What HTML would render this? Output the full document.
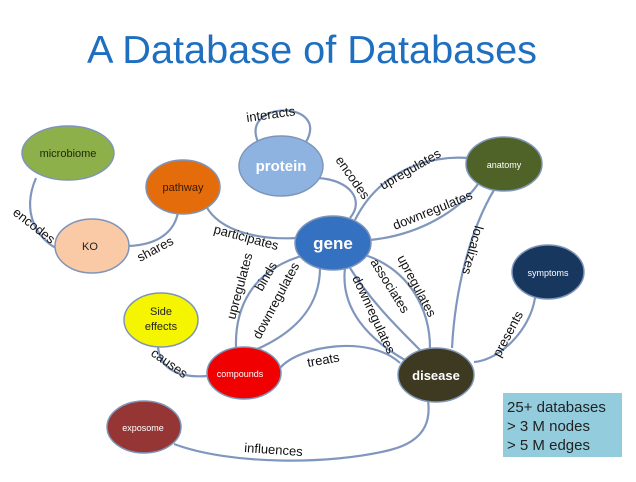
<!DOCTYPE html>
<html><head><meta charset="utf-8"><style>
html,body{margin:0;padding:0;background:#fff;}
svg{display:block;font-family:"Liberation Sans",sans-serif;}
.e{fill:none;stroke:#8097bd;stroke-width:2.2;}
.l{font-size:13px;fill:#111;}
</style></head><body>
<svg width="636" height="482" viewBox="0 0 636 482">
<text x="312" y="63" text-anchor="middle" font-size="39" fill="#1f6fc0" textLength="450" lengthAdjust="spacingAndGlyphs">A Database of Databases</text>

<!-- edges -->
<path class="e" d="M36,178 C20,215 40,240 56,248"/>
<path class="e" d="M128,246 C160,245 175,230 178,212"/>
<path class="e" d="M206,206 C220,232 260,240 297,238"/>
<path class="e" d="M258,142 C240,100 330,100 306,142"/>
<path class="e" d="M318,178 C350,180 365,200 350,218"/>
<path class="e" d="M355,220 C380,170 430,155 468,158"/>
<path class="e" d="M370,240 C420,235 460,210 478,184"/>
<path class="e" d="M494,190 C470,230 455,290 452,348"/>
<path class="e" d="M474,362 C500,360 530,330 535,298"/>
<path class="e" d="M365,255 C410,270 430,310 430,348"/>
<path class="e" d="M350,268 C370,300 395,325 420,350"/>
<path class="e" d="M345,268 C340,310 370,340 405,360"/>
<path class="e" d="M305,255 C250,270 235,310 236,347"/>
<path class="e" d="M320,268 C320,310 290,335 255,350"/>
<path class="e" d="M280,368 C300,345 370,335 400,363"/>
<path class="e" d="M158,347 C160,370 180,378 207,376"/>
<path class="e" d="M174,444 C230,465 330,465 390,450 C430,440 430,415 428,400"/>

<!-- edge labels -->
<g class="l">
<text transform="translate(12,214) rotate(38)">encodes</text>
<text transform="translate(140,262) rotate(-28)">shares</text>
<text transform="translate(213,233) rotate(15)">participates</text>
<text transform="translate(247,122) rotate(-8)">interacts</text>
<text transform="translate(335,160) rotate(55)">encodes</text>
<text transform="translate(383,190) rotate(-30)">upregulates</text>
<text transform="translate(395,230) rotate(-22)">downregulates</text>
<text transform="translate(475,225) rotate(105)">localizes</text>
<text transform="translate(500,358) rotate(-62)">presents</text>
<text transform="translate(397,258) rotate(62)">upregulates</text>
<text transform="translate(370,262) rotate(58)">associates</text>
<text transform="translate(352,278) rotate(65)">downregulates</text>
<text transform="translate(235,320) rotate(-75)">upregulates</text>
<text transform="translate(262,292) rotate(-60)">binds</text>
<text transform="translate(260,340) rotate(-62)">downregulates</text>
<text transform="translate(308,367) rotate(-10)">treats</text>
<text transform="translate(150,355) rotate(35)">causes</text>
<text transform="translate(244,452) rotate(4)">influences</text>
</g>

<!-- nodes -->
<g stroke="#7f95b8" stroke-width="1.5">
<ellipse cx="68" cy="153" rx="46" ry="27" fill="#8eb04a"/>
<ellipse cx="183" cy="187" rx="37" ry="27" fill="#e46c0a"/>
<ellipse cx="92" cy="246" rx="37" ry="27" fill="#fac9a6"/>
<ellipse cx="281" cy="166" rx="42" ry="30" fill="#8eb3e0"/>
<ellipse cx="333" cy="243" rx="38" ry="27" fill="#3471c1"/>
<ellipse cx="504" cy="164" rx="38" ry="27" fill="#4f6228"/>
<ellipse cx="548" cy="272" rx="36" ry="27" fill="#17375e"/>
<ellipse cx="161" cy="320" rx="37" ry="27" fill="#f5f500"/>
<ellipse cx="244" cy="373" rx="37" ry="26" fill="#f00000"/>
<ellipse cx="436" cy="375" rx="38" ry="27" fill="#3e3a22"/>
<ellipse cx="144" cy="427" rx="37" ry="26" fill="#953634"/>
</g>
<g text-anchor="middle">
<text x="68" y="157" font-size="11" fill="#1a2a08">microbiome</text>
<text x="183" y="191" font-size="11" fill="#3a1800">pathway</text>
<text x="90" y="250" font-size="11" fill="#222">KO</text>
<text x="281" y="171" font-size="15" font-weight="bold" fill="#fff">protein</text>
<text x="333" y="249" font-size="17" font-weight="bold" fill="#fff">gene</text>
<text x="504" y="168" font-size="9" fill="#fff">anatomy</text>
<text x="548" y="276" font-size="9" fill="#fff">symptoms</text>
<text x="161" y="315" font-size="11" fill="#222">Side</text>
<text x="161" y="330" font-size="11" fill="#222">effects</text>
<text x="240" y="377" font-size="9" fill="#fff">compounds</text>
<text x="436" y="380" font-size="13" font-weight="bold" fill="#fff">disease</text>
<text x="143" y="431" font-size="9" fill="#fff">exposome</text>
</g>

<rect x="503" y="393" width="119" height="64" fill="#93cddd"/>
<g font-size="15" fill="#222">
<text x="507" y="412">25+ databases</text>
<text x="507" y="431">&gt; 3 M nodes</text>
<text x="507" y="450">&gt; 5 M edges</text>
</g>
</svg>
</body></html>
